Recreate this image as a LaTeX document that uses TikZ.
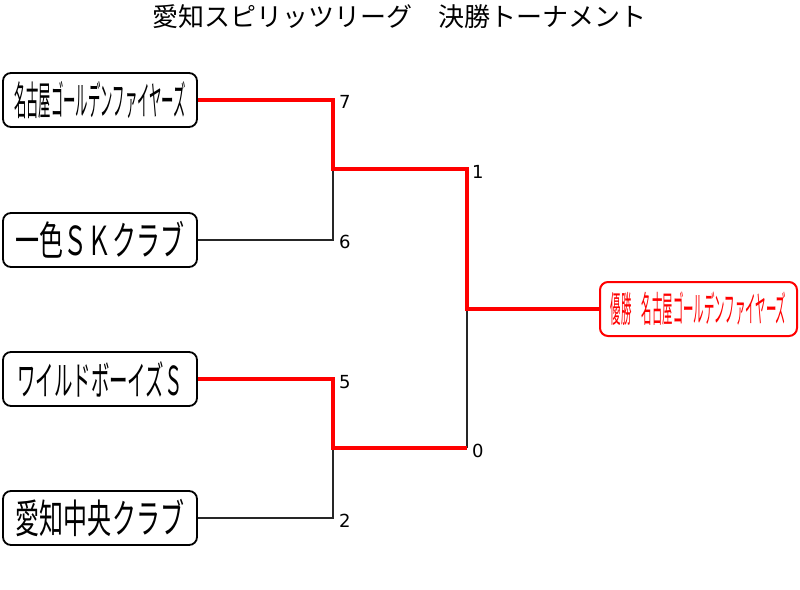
\documentclass[tikz,border=0pt]{standalone}
\usepackage{fontspec}
\setmainfont{DejaVu Sans}
\newfontfamily\jp{Noto Sans CJK JP}
\newcommand{\teamtxt}[3]{\scalebox{#1}[1]{\jp\fontsize{#2}{#2}\selectfont #3}}
\begin{document}
\begin{tikzpicture}[x=1pt,y=-1pt,
  team/.style={draw=black, line width=1.8pt, rounded corners=8pt, fill=white,
    minimum width=194pt, minimum height=54pt, inner sep=0pt},
  champ/.style={draw=red, line width=2pt, rounded corners=8pt, fill=white,
    minimum width=197pt, minimum height=54pt, inner sep=0pt, text=red},
  lose/.style={draw=black!85, line width=1.6pt},
  win/.style={draw=red, line width=4pt},
  num/.style={anchor=west, inner sep=0pt, font=\fontsize{18}{18}\selectfont}]
\useasboundingbox (0,0) rectangle (800,589);
\node[inner sep=0pt] (title) at (399,17) {\jp\fontsize{26}{26}\selectfont 愛知スピリッツリーグ　決勝トーナメント};

\node[team] (t1) at (100,100) {\teamtxt{0.309}{40}{名古屋ゴールデンファイヤーズ}};
\node[team] (t2) at (100,240) {\teamtxt{0.6}{40}{一色ＳＫクラブ}};
\node[team] (t3) at (100,379) {\teamtxt{0.461}{40}{ワイルドボーイズＳ}};
\node[team] (t4) at (100,518) {\teamtxt{0.6}{40}{愛知中央クラブ}};
\node[champ] (w) at (698.5,309) {\teamtxt{0.289}{36}{優勝　名古屋ゴールデンファイヤーズ}};

\coordinate (j1) at (333,169);
\coordinate (j2) at (333,448);
\coordinate (f) at (467,309);
\coordinate (c0) at (467,448);

\draw[lose] (t2.east) -| (j1);
\draw[lose] (t4.east) -| (j2);
\draw[lose] (c0) -- (f);
\draw[win, line join=miter] (t1.east) -| (j1) -| (f) -- (w.west);
\draw[win, line join=miter] (t3.east) -| (j2) -- (c0);

\node[num] (n7) at (339,102) {7};
\node[num] (n6) at (339,241.5) {6};
\node[num] (n5) at (339,382) {5};
\node[num] (n2) at (339,521) {2};
\node[num] (n1) at (472,172) {1};
\node[num] (n0) at (472,451) {0};
\end{tikzpicture}
\end{document}
